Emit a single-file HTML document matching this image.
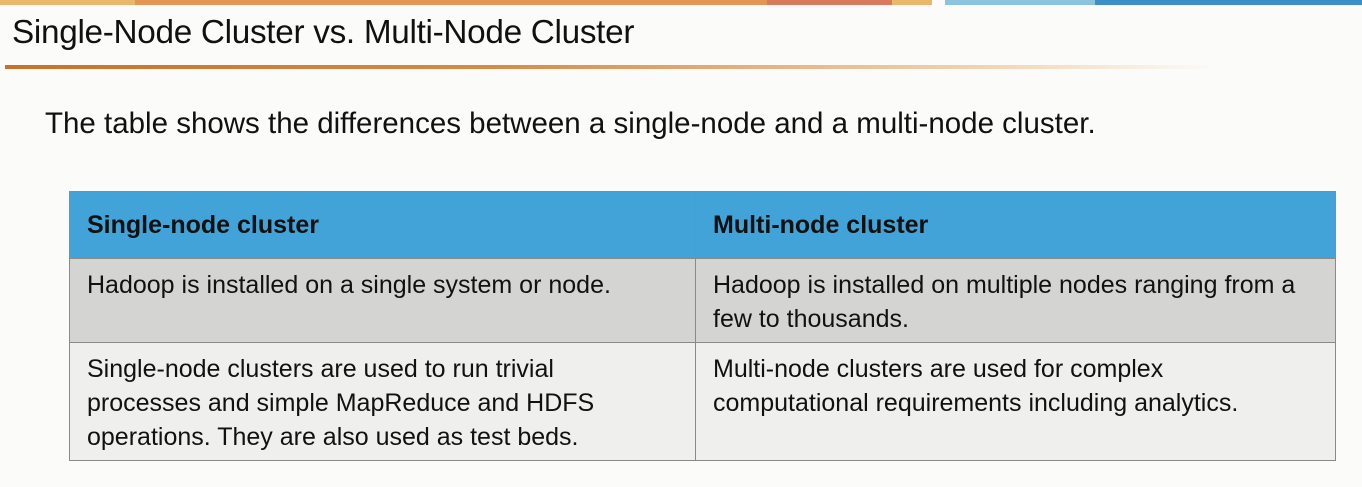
<!DOCTYPE html>
<html><head><meta charset="utf-8"><style>
body{margin:0;width:1362px;height:487px;background:#fbfbf9;position:relative;overflow:hidden;font-family:"Liberation Sans",sans-serif;color:#111}
.bar{position:absolute;top:0;height:5px}
.t{position:absolute;white-space:nowrap}
table{position:absolute;left:69px;top:191px;width:1267px;border-collapse:collapse;font-size:25px;table-layout:fixed}
td{border:1px solid #8a8a8a;vertical-align:top;padding:0 17px;line-height:34px;white-space:nowrap;overflow:hidden}
</style></head><body>
<div class="bar" style="left:0;width:135px;background:#e9b86a"></div>
<div class="bar" style="left:135px;width:632px;background:#e39556"></div>
<div class="bar" style="left:767px;width:125px;background:#d97a5c"></div>
<div class="bar" style="left:892px;width:40px;background:#e9b86a"></div>
<div class="bar" style="left:945px;width:150px;background:#8cc4e0"></div>
<div class="bar" style="left:1095px;width:267px;background:#3d8fc7"></div>
<div class="t" style="left:12px;top:14px;font-size:33.3px;letter-spacing:-0.3px">Single-Node Cluster vs. Multi-Node Cluster</div>
<div style="position:absolute;left:5px;top:65px;width:1210px;height:4px;background:linear-gradient(90deg,#c7722a 0%,#d58a45 40%,#f0d2b0 80%,rgba(250,240,230,0) 100%)"></div>
<div class="t" style="left:45px;top:107px;font-size:29.5px">The table shows the differences between a single-node and a multi-node cluster.</div>
<table>
<colgroup><col style="width:626px"><col></colgroup>
<tr style="height:67px;background:#42a3d8;font-weight:bold"><td style="vertical-align:middle">Single-node cluster</td><td style="vertical-align:middle">Multi-node cluster</td></tr>
<tr style="height:84px;background:#d4d4d2"><td style="padding-top:9px">Hadoop is installed on a single system or node.</td><td style="padding-top:9px">Hadoop is installed on multiple nodes ranging from a<br>few to thousands.</td></tr>
<tr style="height:118px;background:#efefed"><td style="padding-top:9px">Single-node clusters are used to run trivial<br>processes and simple MapReduce and HDFS<br>operations. They are also used as test beds.</td><td style="padding-top:9px">Multi-node clusters are used for complex<br>computational requirements including analytics.</td></tr>
</table>
</body></html>
